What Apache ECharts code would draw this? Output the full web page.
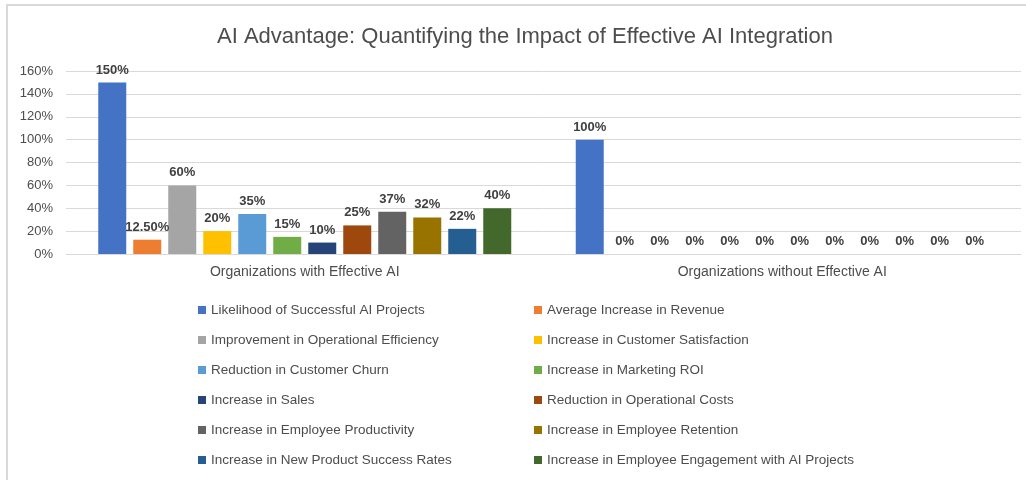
<!DOCTYPE html>
<html>
<head>
<meta charset="utf-8">
<title>AI Advantage</title>
<script src="https://cdn.jsdelivr.net/npm/echarts@6/dist/echarts.min.js"></script>
<style>
  html, body { margin: 0; padding: 0; background: #fff; overflow: hidden; }
  .frame {
    position: absolute; left: 6px; top: 4px; width: 1100px; height: 600px;
    border-top: 2px solid #d9d9d9; border-left: 2px solid #d9d9d9;
  }
  #main { position: absolute; left: 0; top: 0; width: 1026px; height: 480px; }
</style>
</head>
<body>
<div class="frame"></div>
<div id="main"></div>
<script>
// groups on the x axis
var categories = ['Organizations with Effective AI', 'Organizations without Effective AI']

// one series per metric
var metrics = [
  'Likelihood of Successful AI Projects',
  'Average Increase in Revenue',
  'Improvement in Operational Efficiency',
  'Increase in Customer Satisfaction',
  'Reduction in Customer Churn',
  'Increase in Marketing ROI',
  'Increase in Sales',
  'Reduction in Operational Costs',
  'Increase in Employee Productivity',
  'Increase in Employee Retention',
  'Increase in New Product Success Rates',
  'Increase in Employee Engagement with AI Projects'
]

// values in percent
var withEffectiveAI = [150, 12.5, 60, 20, 35, 15, 10, 25, 37, 32, 22, 40]
var withoutEffectiveAI = [100, 0, 0, 0, 0, 0, 0, 0, 0, 0, 0, 0]

var colors = ['#4472C4', '#ED7D31', '#A5A5A5', '#FFC000', '#5B9BD5', '#70AD47',
  '#264478', '#9E480E', '#636363', '#997300', '#255E91', '#43682B']

var fontFamily = '"Liberation Sans", Arial, sans-serif'

function pct(v) {
  return (v % 1 === 0 ? v : v.toFixed(2)) + '%'
}

var series = metrics.map(function(name, i) {
  return {
    name: name,
    type: 'bar',
    data: [withEffectiveAI[i], withoutEffectiveAI[i]],
    barWidth: 28,
    barGap: '25%',
    itemStyle: { color: colors[i] },
    label: {
      show: true,
      position: 'top',
      distance: 6,
      color: '#404040',
      fontWeight: 'bold',
      fontSize: 13,
      fontFamily: fontFamily,
      formatter: function(p) { return pct(p.value) }
    }
  }
})

var myChart = echarts.init(document.getElementById('main'))
myChart.setOption({
  animation: false,
  color: colors,
  title: {
    text: 'AI Advantage: Quantifying the Impact of Effective AI Integration',
    left: 212,
    top: 21,
    textStyle: {
      color: '#4d4d4d',
      fontSize: 22,
      fontWeight: 'normal',
      fontFamily: fontFamily
    }
  },
  legend: {
    orient: 'horizontal',
    left: 198,
    top: 301,
    padding: 0,
    width: 690,
    itemWidth: 8,
    itemHeight: 8,
    itemGap: 12,
    icon: 'rect',
    textStyle: {
      color: '#4d4d4d',
      fontSize: 13.5,
      fontFamily: fontFamily,
      width: 311,
      lineHeight: 18
    },
    data: metrics
  },
  grid: {
    left: 66,
    right: 5,
    top: 71,
    bottom: 226,
    containLabel: false
  },
  xAxis: {
    type: 'category',
    data: categories,
    axisLine: { lineStyle: { color: '#d9d9d9' } },
    axisTick: { show: false },
    axisLabel: {
      color: '#4d4d4d',
      fontSize: 14,
      fontFamily: fontFamily,
      margin: 11
    }
  },
  yAxis: {
    type: 'value',
    min: 0,
    max: 160,
    interval: 20,
    axisLine: { show: false },
    axisTick: { show: false },
    splitLine: { lineStyle: { color: '#d9d9d9' } },
    axisLabel: {
      color: '#4d4d4d',
      fontSize: 13,
      fontFamily: fontFamily,
      margin: 13,
      formatter: '{value}%'
    }
  },
  series: series
})

window.addEventListener('resize', function() {
  myChart.resize()
})
</script>
</body>
</html>
